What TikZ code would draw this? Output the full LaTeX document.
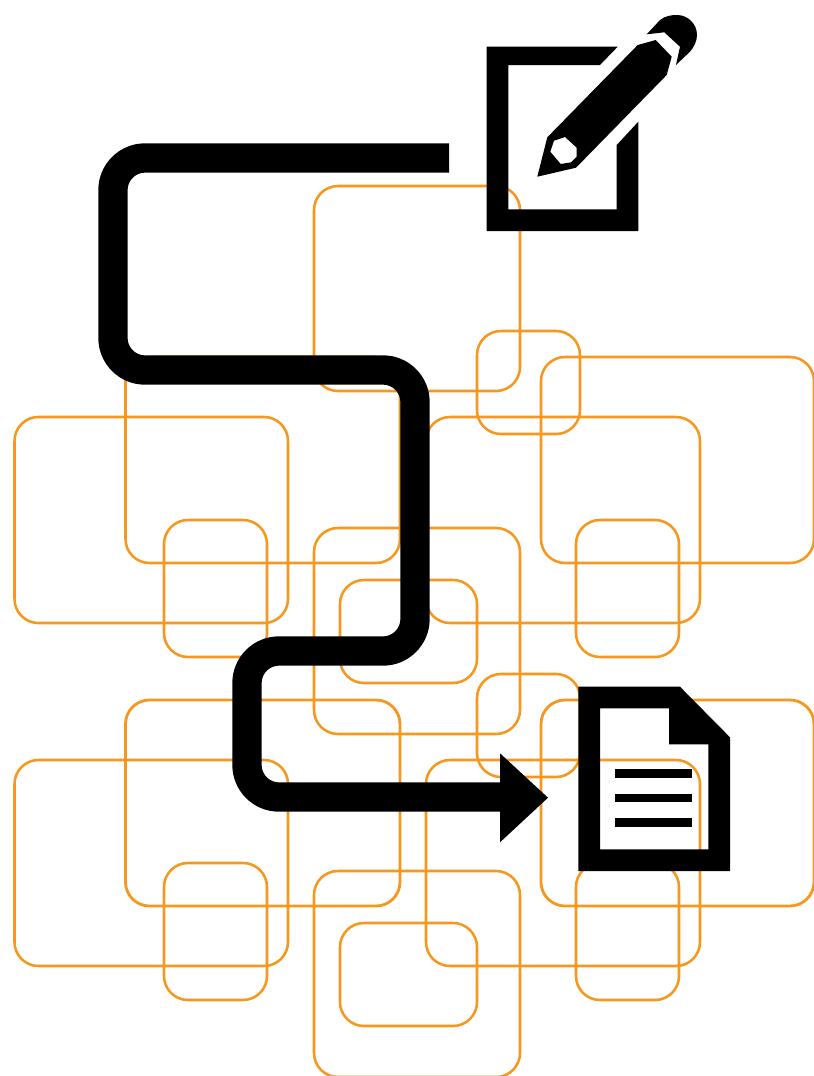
\documentclass[tikz,border=0pt]{standalone}
\usepackage{tikz}

\begin{document}
\begin{tikzpicture}[x=0.75pt, y=-0.75pt,
    box/.style={draw=boxorange, line width=1.9pt, rounded corners=18pt},
    heavybox/.style={box, line width=2.1pt},
    route/.style={draw=black, line width=22pt, rounded corners=24pt}]
    \definecolor{boxorange}{HTML}{F7971D}
    \useasboundingbox (0, 0) rectangle (814, 1076);
    \clip (0, 0) rectangle (814, 1076);

    % Upper group of boxes
    \draw[box] (314, 186) rectangle (520, 391);
    \draw[box] (477, 331) rectangle (580, 434);
    \draw[box] (541, 357) rectangle (814, 563);
    \draw[box] (426, 417) rectangle (700, 623);
    \draw[box] (14.5, 417) rectangle (288, 623);
    \draw[box] (125.5, 357) rectangle (400, 563);
    \draw[box] (164, 520) rectangle (267, 657);
    \draw[box] (576, 520) rectangle (679, 657);
    \draw[box] (314, 528) rectangle (520, 734);
    \draw[box] (340, 580) rectangle (477, 683);

    % Lower group of boxes
    \draw[box] (477, 674) rectangle (580, 777);
    \draw[heavybox] (125.5, 700) rectangle (400, 906);
    \draw[heavybox] (541, 700) rectangle (814, 906);
    \draw[box] (14.5, 760) rectangle (288, 966);
    \draw[box] (426, 760) rectangle (700, 966);
    \draw[box] (164, 863) rectangle (267, 1000);
    \draw[box] (576, 863) rectangle (679, 1000);
    \draw[box] (314, 871) rectangle (520, 1077);
    \draw[box] (340, 923) rectangle (477, 1026);

    % Route from the pencil to the page
    \draw[route] (449, 158) -- (113, 158) -- (113, 370) -- (415, 370) -- (415, 651)
        -- (247, 651) -- (247, 797) -- (502, 797);
    \fill (500, 753.3) -- (548, 797.7) -- (500, 842.3) -- cycle;

    % Notepad frame
    \fill (486.7, 46.7) -- (617.7, 46.7) -- (600, 65) -- (508.3, 65) -- (508.3, 209.3)
        -- (616.7, 209.3) -- (616.7, 145) -- (638.3, 121.7) -- (638.3, 231) -- (486.7, 231) -- cycle;

    % Pencil
    \fill[even odd rule] (537.3, 176.7) -- (547.3, 137.3) -- (637.7, 45) -- (655.7, 40)
        -- (671.7, 56.7) -- (666.7, 75) -- (576, 167.7) -- cycle
        (554, 140.7) -- (565, 137) -- (576.7, 147.7) -- (576.7, 156.7) -- (571, 162.3)
        -- (560.7, 164) -- (550.3, 151.7) -- cycle;
    \fill (646.7, 34.3) -- (660, 20) .. controls (665, 16) and (671, 15) .. (677, 15)
        .. controls (688, 15) and (697, 24) .. (697, 35)
        .. controls (697, 41) and (694, 47) .. (690, 51.7)
        -- (676, 65) -- (680, 46.7) -- (664.3, 32.3) -- cycle;

    % Page with text lines
    \fill[even odd rule] (578.3, 686.7) -- (680, 686.7) -- (730, 737.3) -- (730, 871) -- (578.3, 871) -- cycle
        (600, 708.3) -- (669, 708.3) -- (669, 744.3) -- (708.3, 744.3) -- (708.3, 849.3) -- (600, 849.3) -- cycle;
    \fill (615, 769.3) rectangle (692.3, 778);
    \fill (615, 793.7) rectangle (692.3, 802.3);
    \fill (615, 818) rectangle (692.3, 826.7);
\end{tikzpicture}
\end{document}
